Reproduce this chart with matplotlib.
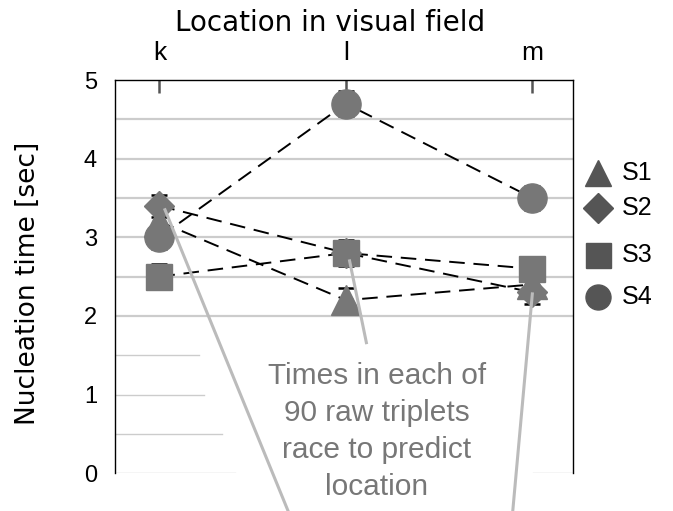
import matplotlib
matplotlib.use("Agg")
import matplotlib.pyplot as plt
from matplotlib.lines import Line2D

plt.rcParams['font.family'] = ['Liberation Sans', 'DejaVu Sans']

locations = ['k', 'l', 'm']
series = ['S1', 'S2', 'S3', 'S4']
s1 = [3.2, 2.2, 2.4]
s2 = [3.4, 2.8, 2.3]
s3 = [2.5, 2.8, 2.6]
s4 = [3.0, 4.7, 3.5]
s1_err = [0.15, 0.16, 0.15]
s2_err = [0.14, 0.15, 0.15]
s3_err = [0.16, 0.16, 0.15]
s4_err = [0.15, 0.16, 0.15]
yticks = [0, 1, 2, 3, 4, 5]
note = "Times in each of\n90 raw triplets\nrace to predict\nlocation"

x = list(range(len(locations)))
fig = plt.figure(figsize=(6.73, 5.11), dpi=100)
ax = fig.add_axes([0.1709, 0.074, 0.6805, 0.7694])
ax.set_xlim(-0.238, 2.218)
ax.set_ylim(0, 5)

# gridlines
for g in [2, 2.5, 3, 3.5, 4, 4.5]:
    ax.axhline(g, color='#cccccc', lw=1.6, zorder=0)
for g, xm in [(1.5, 0.183), (1.0, 0.194), (0.5, 0.234), (0.0, 0.262)]:
    ax.axhline(g, xmin=0, xmax=xm, color='#cccccc', lw=1.0, zorder=0)
ax.axhline(0, xmin=0.913, xmax=1.0, color='#cccccc', lw=1.0, zorder=0)

mcol = '#777777'
styles = [
    (s1, s1_err, '^', 21),
    (s4, s4_err, 'o', 21),
    (s2, s2_err, 'D', 15),
    (s3, s3_err, 's', 19),
]
for vals, err, mk, ms in styles:
    ax.plot(x, vals, color='black', lw=1.4, dashes=(8, 4.5), zorder=2)
    ax.errorbar(x, vals, yerr=err, fmt='none', ecolor='black', elinewidth=1.2,
                capsize=5.5, capthick=1.8, zorder=2.5)
for vals, err, mk, ms in styles:
    ax.plot(x, vals, linestyle='none', marker=mk, markersize=ms,
            markerfacecolor=mcol, markeredgecolor=mcol, zorder=3)

# annotation
ax.text(1.167, 0.53, note, ha='center', va='center', fontsize=21.5,
        color='#777777', linespacing=1.42, zorder=4)
acol = '#bbbbbb'
ax.plot([0.03, 0.69], [3.35, -0.48], color=acol, lw=2.2, clip_on=False, zorder=5)
ax.plot([1.02, 1.11], [2.7, 1.66], color=acol, lw=2.2, clip_on=False, zorder=5)
ax.plot([2.0, 1.895], [2.28, -0.48], color=acol, lw=2.2, clip_on=False, zorder=5)

# axes styling
ax.xaxis.tick_top()
ax.xaxis.set_label_position('top')
ax.set_xticks(x)
ax.set_xticklabels(locations, fontsize=19)
ax.tick_params(axis='x', direction='in', length=9, width=1.8, color='#555555', pad=10.5)
ax.set_xlabel('Location in visual field', fontsize=20, family='DejaVu Sans')
ax.xaxis.set_label_coords(0.469, 1.145)
ax.xaxis.label.set_va('center')
ax.set_yticks(yticks)
ax.set_yticklabels([str(t) for t in yticks], fontsize=17)
ax.tick_params(axis='y', length=0, pad=13)
ax.set_ylabel('Nucleation time [sec]', fontsize=19, family='DejaVu Sans')
ax.yaxis.set_label_coords(-0.19, 0.484)
ax.yaxis.label.set_va('center')
for side in ['left', 'right', 'top']:
    ax.spines[side].set_color('black')
    ax.spines[side].set_linewidth(1.0)
ax.spines['bottom'].set_visible(False)

# legend (manual)
lcol = '#555555'
leg = [('^', 19, 0.661), ('D', 15, 0.593), ('s', 18, 0.501), ('o', 18, 0.419)]
for (mk, ms, yy), name in zip(leg, series):
    fig.add_artist(Line2D([0.889], [yy], marker=mk, markersize=ms, color=lcol,
                          linestyle='none', transform=fig.transFigure))
    fig.text(0.924, yy, name, fontsize=18, va='center', ha='left')

fig.savefig('out.png', dpi=100)
